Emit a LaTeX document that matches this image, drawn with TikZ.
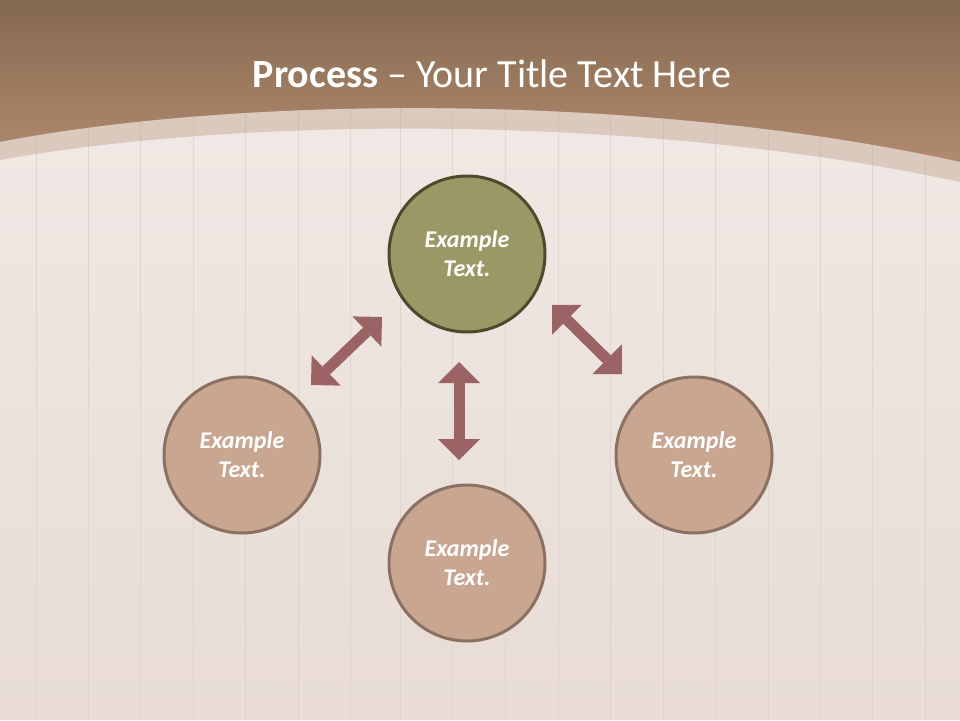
\documentclass[tikz,border=0pt]{standalone}
\usepackage{fontspec}
\setmainfont{Carlito}
\usetikzlibrary{arrows.meta}
\definecolor{brownTop}{HTML}{84694F}
\definecolor{brownBot}{HTML}{BC9277}
\definecolor{woodTop}{HTML}{F0E9E5}
\definecolor{woodBot}{HTML}{E8DCD5}
\definecolor{woodLine}{HTML}{D9CCC4}
\definecolor{bandC}{HTML}{B58C73}
\definecolor{oliveFill}{HTML}{9A9966}
\definecolor{oliveLine}{HTML}{4D4A2D}
\definecolor{tanFill}{HTML}{C9A68F}
\definecolor{tanLine}{HTML}{8B7161}
\definecolor{arrowC}{HTML}{9C6364}
\begin{document}
\begin{tikzpicture}[x=1pt,y=-1pt,
  bubble/.style={circle, minimum size=156pt, inner sep=0pt, line width=3pt, align=center,
    text=white, font=\fontsize{24}{29}\selectfont\bfseries\itshape},
  olivec/.style={bubble, fill=oliveFill, draw=oliveLine},
  tanc/.style={bubble, fill=tanFill, draw=tanLine},
  tip/.tip={Triangle[length=21pt 0 0, width=42pt 0 0, line width=0pt 0 0]},
  bigarrow/.style={draw=arrowC, line width=11pt, tip-tip}]
\useasboundingbox (0,0) rectangle (960,720);
% top brown band
\shade[top color=brownTop, bottom color=brownBot] (0,0) rectangle (960,200);
% wood region
\shade[top color=woodTop, bottom color=woodBot]
  (0,142) .. controls (250,94) and (650,94) .. (960,162) -- (960,720) -- (0,720) -- cycle;
% plank lines
\begin{scope}
  \clip (0,142) .. controls (250,94) and (650,94) .. (960,162) -- (960,720) -- (0,720) -- cycle;
  \foreach \x in {36,88,140,193,245,298,350,400,452,505,558,610,663,715,768,820,872,925}
    \draw[woodLine, line width=0.8pt, opacity=0.6] (\x,90) -- (\x,720);
\end{scope}
% translucent band
\fill[bandC, opacity=0.33]
  (0,142) .. controls (250,94) and (650,94) .. (960,162) -- (960,182)
  .. controls (650,115) and (250,115) .. (0,160) -- cycle;
% title
\node[text=white, font=\fontsize{40}{48}\selectfont] (title) at (492,74)
  {\textbf{Process} – Your Title Text Here};
% circles
\node[olivec] (top) at (467,254) {Example\\Text.};
\node[tanc] (left) at (242,455) {Example\\Text.};
\node[tanc] (right) at (694,455) {Example\\Text.};
\node[tanc] (bottom) at (467,563) {Example\\Text.};
% arrow ends
\coordinate (la1) at (382,317);
\coordinate (la2) at (311,385);
\coordinate (va1) at (459,362);
\coordinate (va2) at (459,460);
\coordinate (ra1) at (552,305);
\coordinate (ra2) at (622,374);
\draw[bigarrow] (la1) -- (la2);
\draw[bigarrow] (va1) -- (va2);
\draw[bigarrow] (ra1) -- (ra2);
\end{tikzpicture}
\end{document}
